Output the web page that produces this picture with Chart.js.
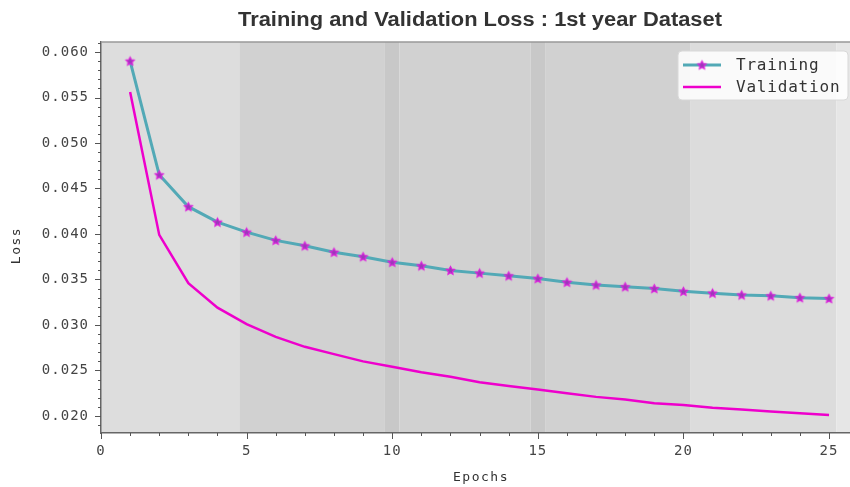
<!DOCTYPE html>
<html>
<head>
<meta charset="utf-8">
<title>Training and Validation Loss</title>
<script src="https://cdn.jsdelivr.net/npm/chart.js@4/dist/chart.umd.min.js"></script>
<style>
    html, body { margin: 0; padding: 0; background: #ffffff; }
    #wrap { width: 850px; height: 487px; position: relative; }
</style>
</head>
<body>
<div id="wrap"><canvas id="lossChart" width="850" height="487"></canvas></div>
<script>
// Loss values, one per epoch
const epochs = [1, 2, 3, 4, 5, 6, 7, 8, 9, 10, 11, 12, 13, 14, 15, 16, 17, 18, 19, 20, 21, 22, 23, 24, 25];
const trainingLoss = [0.0590, 0.0465, 0.0430, 0.0413, 0.0402, 0.0393, 0.0387, 0.0380, 0.0375, 0.0369,
                      0.0365, 0.0360, 0.0357, 0.0354, 0.0351, 0.0347, 0.0344, 0.0342, 0.0340, 0.0337,
                      0.0335, 0.0333, 0.0332, 0.0330, 0.0329];
const validationLoss = [0.0556, 0.0399, 0.0346, 0.0319, 0.0301, 0.0287, 0.0276, 0.0268, 0.0260, 0.0254,
                        0.0248, 0.0243, 0.0237, 0.0233, 0.0229, 0.0225, 0.0221, 0.0218, 0.0214, 0.0212,
                        0.0209, 0.0207, 0.0205, 0.0203, 0.0201];

// Axis ticks
const xTickValues = [0, 5, 10, 15, 20, 25];
const yTickValues = [0.020, 0.025, 0.030, 0.035, 0.040, 0.045, 0.050, 0.055, 0.060];

// Shaded background spans (in epochs)
const shadeFrom = [0, 4.75, 9.75, 10.25, 14.75, 15.25, 20.25, 25.25];
const shadeTo   = [4.75, 9.75, 10.25, 14.75, 15.25, 20.25, 25.25, 26];
const shadeColors = ['#dddddd', '#d1d1d1', '#c8c8c8', '#d1d1d1', '#c8c8c8', '#d1d1d1', '#dcdcdc', '#e6e6e6'];

const TRAIN_COLOR = '#52a9b6';
const VAL_COLOR = '#ee00cc';
const MONO = "'DejaVu Sans Mono', monospace";

// Star marker image used as point style
function makeStar(r) {
    const size = Math.ceil(r * 2 + 4);
    const c = document.createElement('canvas');
    c.width = size;
    c.height = size;
    const g = c.getContext('2d');
    const cx = size / 2, cy = size / 2 + 0.3;
    g.beginPath();
    for (let i = 0; i < 10; i++) {
        const a = -Math.PI / 2 + i * Math.PI / 5;
        const rad = i % 2 ? r * 0.5 : r;
        const px = cx + rad * Math.cos(a), py = cy + rad * Math.sin(a);
        if (i === 0) g.moveTo(px, py); else g.lineTo(px, py);
    }
    g.closePath();
    g.fillStyle = '#9a3cb8';
    g.fill();
    g.strokeStyle = '#dc22dc';
    g.lineWidth = 1.2;
    g.stroke();
    return c;
}
const star = makeStar(4.3);

// Background shading, spines, minor ticks, title, axis titles and legend
const decorPlugin = {
    id: 'decor',
    beforeDraw(chart) {
        const { ctx, chartArea, scales } = chart;
        ctx.save();
        for (let i = 0; i < shadeFrom.length; i++) {
            const x0 = Math.max(scales.x.getPixelForValue(shadeFrom[i]), chartArea.left);
            const x1 = Math.min(scales.x.getPixelForValue(shadeTo[i]), chartArea.right);
            ctx.fillStyle = shadeColors[i];
            ctx.fillRect(x0, chartArea.top, x1 - x0, chartArea.bottom - chartArea.top);
        }
        ctx.restore();
        // wider glyph spacing for the tick labels
        ctx.letterSpacing = '1px';
    },
    afterDatasetsDraw(chart) {
        const { ctx } = chart;
        ctx.save();
        ctx.letterSpacing = '0.8px';
        // legend box
        const bx = 678, by = 51, bw = 170, bh = 49;
        ctx.beginPath();
        ctx.roundRect(bx, by, bw, bh, 4);
        ctx.fillStyle = 'rgba(255,255,255,0.85)';
        ctx.fill();
        ctx.strokeStyle = '#d8d8d8';
        ctx.lineWidth = 1;
        ctx.stroke();
        const items = chart.data.datasets;
        ctx.font = '16px ' + MONO;
        ctx.textBaseline = 'middle';
        items.forEach((ds, i) => {
            const y = by + 14 + i * 22;
            ctx.beginPath();
            ctx.moveTo(bx + 5, y);
            ctx.lineTo(bx + 43, y);
            ctx.strokeStyle = ds.borderColor;
            ctx.lineWidth = ds.borderWidth;
            ctx.stroke();
            if (ds.pointStyle === star) {
                ctx.drawImage(star, bx + 24 - star.width / 2, y - star.height / 2);
            }
            ctx.fillStyle = '#333333';
            ctx.fillText(ds.label, bx + 58, y + 1);
        });
        ctx.restore();
    },
    afterDraw(chart) {
        const { ctx, chartArea, scales } = chart;
        ctx.save();
        ctx.letterSpacing = '0px';
        // top spine
        ctx.strokeStyle = '#999999';
        ctx.lineWidth = 1.5;
        ctx.beginPath();
        ctx.moveTo(chartArea.left, chartArea.top);
        ctx.lineTo(chartArea.right, chartArea.top);
        ctx.stroke();
        // tick marks, major and minor
        ctx.strokeStyle = '#555555';
        ctx.lineWidth = 1;
        for (let v = 19; v <= 61; v++) {
            const y = Math.round(scales.y.getPixelForValue(v / 1000)) + 0.5;
            if (y < chartArea.top - 1 || y > chartArea.bottom + 1) continue;
            const len = v % 5 === 0 ? 6 : 3;
            ctx.beginPath();
            ctx.moveTo(chartArea.left - len, y);
            ctx.lineTo(chartArea.left, y);
            ctx.stroke();
        }
        for (let v = 0; v <= 25; v++) {
            const x = Math.round(scales.x.getPixelForValue(v)) + 0.5;
            const len = v % 5 === 0 ? 6 : 3;
            ctx.beginPath();
            ctx.moveTo(x, chartArea.bottom);
            ctx.lineTo(x, chartArea.bottom + len);
            ctx.stroke();
        }
        // title, squeezed to the reference width
        const title = 'Training and Validation Loss : 1st year Dataset';
        ctx.fillStyle = '#333333';
        ctx.font = "bold 20px 'Liberation Sans', Arial, sans-serif";
        ctx.textAlign = 'center';
        ctx.textBaseline = 'middle';
        const tw = ctx.measureText(title).width;
        ctx.save();
        ctx.translate(480, 20);
        ctx.scale(484 / tw, 1);
        ctx.fillText(title, 0, 0);
        ctx.restore();
        // axis titles
        ctx.letterSpacing = '1.5px';
        ctx.font = '13px ' + MONO;
        ctx.fillStyle = '#333333';
        ctx.fillText('Epochs', 481, 478);
        ctx.translate(17, (chartArea.top + chartArea.bottom) / 2 + 8);
        ctx.rotate(-Math.PI / 2);
        ctx.fillText('Loss', 0, 0);
        ctx.restore();
    }
};

new Chart(document.getElementById('lossChart'), {
    type: 'line',
    data: {
        datasets: [{
            label: 'Training',
            data: epochs.map((e, i) => ({ x: e, y: trainingLoss[i] })),
            borderColor: TRAIN_COLOR,
            backgroundColor: TRAIN_COLOR,
            borderWidth: 3,
            pointStyle: star,
            pointRadius: 5,
            tension: 0
        }, {
            label: 'Validation',
            data: epochs.map((e, i) => ({ x: e, y: validationLoss[i] })),
            borderColor: VAL_COLOR,
            backgroundColor: VAL_COLOR,
            borderWidth: 2.5,
            pointRadius: 0,
            tension: 0
        }]
    },
    options: {
        responsive: false,
        animation: false,
        layout: { autoPadding: false, padding: { top: 42, left: 0, right: 0, bottom: 0 } },
        plugins: {
            legend: { display: false },
            title: { display: false },
            tooltip: { enabled: false }
        },
        scales: {
            x: {
                type: 'linear',
                min: 0,
                max: 25.72,
                afterBuildTicks: s => { s.ticks = xTickValues.map(v => ({ value: v })); },
                afterFit: s => { s.height = 54; s.paddingLeft = 0; s.paddingRight = 0; },
                grid: { display: false, drawTicks: false },
                border: { display: true, color: '#666666', width: 1.5 },
                ticks: {
                    padding: 10,
                    color: '#444444',
                    font: { family: MONO, size: 14 },
                    maxRotation: 0,
                    callback: v => String(v)
                }
            },
            y: {
                min: 0.01813,
                max: 0.0611,
                afterBuildTicks: s => { s.ticks = yTickValues.map(v => ({ value: v })); },
                afterFit: s => { s.width = 101; s.paddingTop = 0; s.paddingBottom = 0; },
                grid: { display: false, drawTicks: false },
                border: { display: true, color: '#666666', width: 1.5 },
                ticks: {
                    padding: 12,
                    color: '#444444',
                    font: { family: MONO, size: 14 },
                    callback: v => v.toFixed(3)
                }
            }
        }
    },
    plugins: [decorPlugin]
});
</script>
</body>
</html>
